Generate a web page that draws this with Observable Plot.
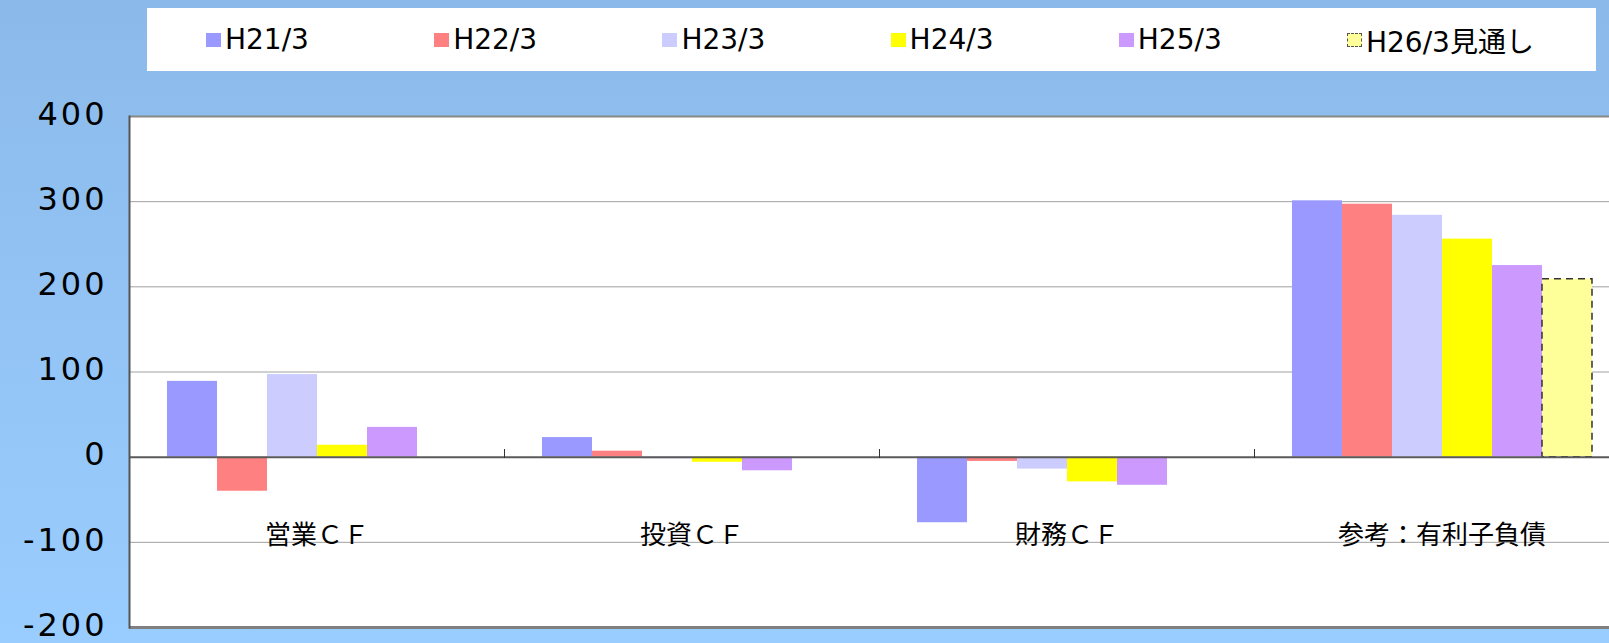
<!DOCTYPE html>
<html>
<head>
<meta charset="utf-8">
<script src="https://cdn.jsdelivr.net/npm/d3@7"></script>
<script src="https://cdn.jsdelivr.net/npm/@observablehq/plot@0.6"></script>
<style>
  html, body { margin: 0; padding: 0; overflow: hidden; }
  body {
    width: 1609px; height: 643px; position: relative;
    background: linear-gradient(#8bbaea, #9acdff);
    font-family: "DejaVu Sans", sans-serif;
  }
  #chart { position: absolute; left: 0; top: 0; width: 1630px; }
  #chart svg { max-width: none !important; width: 1630px; height: 643px; }
  #chart g[aria-label="y-axis tick label"] text { font-size: 32px !important; letter-spacing: 3px; }
  #legend {
    position: absolute; left: 147px; top: 8px; width: 1449px; height: 63px;
    background: #fff;
  }
  .item { position: absolute; top: 0; height: 63px; display: flex; align-items: center; }
  .sw { width: 15px; height: 14px; margin-right: 4px; box-sizing: border-box; }
  .lab { font-size: 28px; color: #000; font-family: "DejaVu Sans", "Noto Sans CJK JP", sans-serif; white-space: nowrap; }
</style>
</head>
<body>
<div id="chart"></div>
<div id="legend"></div>
<script>
const categories = ["営業ＣＦ", "投資ＣＦ", "財務ＣＦ", "参考：有利子負債"];
const series = ["H21/3", "H22/3", "H23/3", "H24/3", "H25/3", "H26/3見通し"];
const colors = ["#9999ff", "#ff8080", "#ccccff", "#ffff00", "#cc99ff", "#ffff99"];
const H21 = [89, 23, -77, 301];
const H22 = [-40, 7, -5, 297];
const H23 = [97, -2, -14, 284];
const H24 = [14, -6, -29, 256];
const H25 = [35, -16, -33, 225];
const H26 = [null, null, null, 209];
const yTicks = [-200, -100, 0, 100, 200, 300, 400];
const gridValues = [-100, 100, 200, 300];

const seriesValues = [H21, H22, H23, H24, H25, H26];
const rows = [];
series.forEach((s, j) => {
  categories.forEach((c, i) => {
    const v = seriesValues[j][i];
    if (v != null) rows.push({cat: c, series: s, value: v});
  });
});
const forecast = series[series.length - 1];

const chart = Plot.plot({
  width: 1630,
  height: 643,
  marginLeft: 129,
  marginRight: 1,
  marginTop: 116,
  marginBottom: 16,
  style: {background: "transparent", fontFamily: "DejaVu Sans, sans-serif"},
  fx: {domain: categories, padding: 0, axis: null},
  x: {domain: series, paddingInner: 0, paddingOuter: 0.75, axis: null},
  y: {domain: [-200, 400], axis: null},
  color: {domain: series, range: colors},
  marks: [
    Plot.frame({fill: "white", stroke: "white", strokeWidth: 1}),
    Plot.ruleY(gridValues, {stroke: "#a0a0a0", strokeWidth: 1}),
    Plot.barY(rows.filter(d => d.series !== forecast), {fx: "cat", x: "series", y: "value", fill: "series"}),
    Plot.barY(rows.filter(d => d.series === forecast), {fx: "cat", x: "series", y: "value", fill: "series",
      stroke: "#333", strokeWidth: 1.5, strokeDasharray: "7,5"}),
    Plot.ruleY([0], {stroke: "#5a5a5a", strokeWidth: 2}),
    Plot.ruleY([400], {stroke: "#888", strokeWidth: 2}),
    Plot.ruleY([-200], {stroke: "#808080", strokeWidth: 3}),
    Plot.frame({anchor: "left", insetTop: 333, insetBottom: 170, stroke: "#333", strokeWidth: 1}),
    Plot.frame({anchor: "left", facetAnchor: "left", stroke: "#555", strokeWidth: 2}),
    Plot.text(categories, {fx: d => d, text: d => d, frameAnchor: "bottom", dy: -84,
      fontSize: 26, fontFamily: "Noto Sans CJK JP", fill: "#000"}),
    Plot.axisY({ticks: yTicks, tickSize: 0, tickPadding: 22, fontSize: 32, dy: -2,
      tickFormat: d => String(d), label: null, fill: "#000"})
  ]
});
document.getElementById("chart").appendChild(chart);

const legend = document.getElementById("legend");
series.forEach((s, j) => {
  const item = document.createElement("div");
  item.className = "item";
  item.style.left = (59 + j * 228.2) + "px";
  const sw = document.createElement("div");
  sw.className = "sw";
  sw.style.background = colors[j];
  if (s === forecast) sw.style.border = "1.5px dashed #555";
  const lab = document.createElement("span");
  lab.className = "lab";
  lab.textContent = s;
  item.appendChild(sw);
  item.appendChild(lab);
  legend.appendChild(item);
});
</script>
</body>
</html>
